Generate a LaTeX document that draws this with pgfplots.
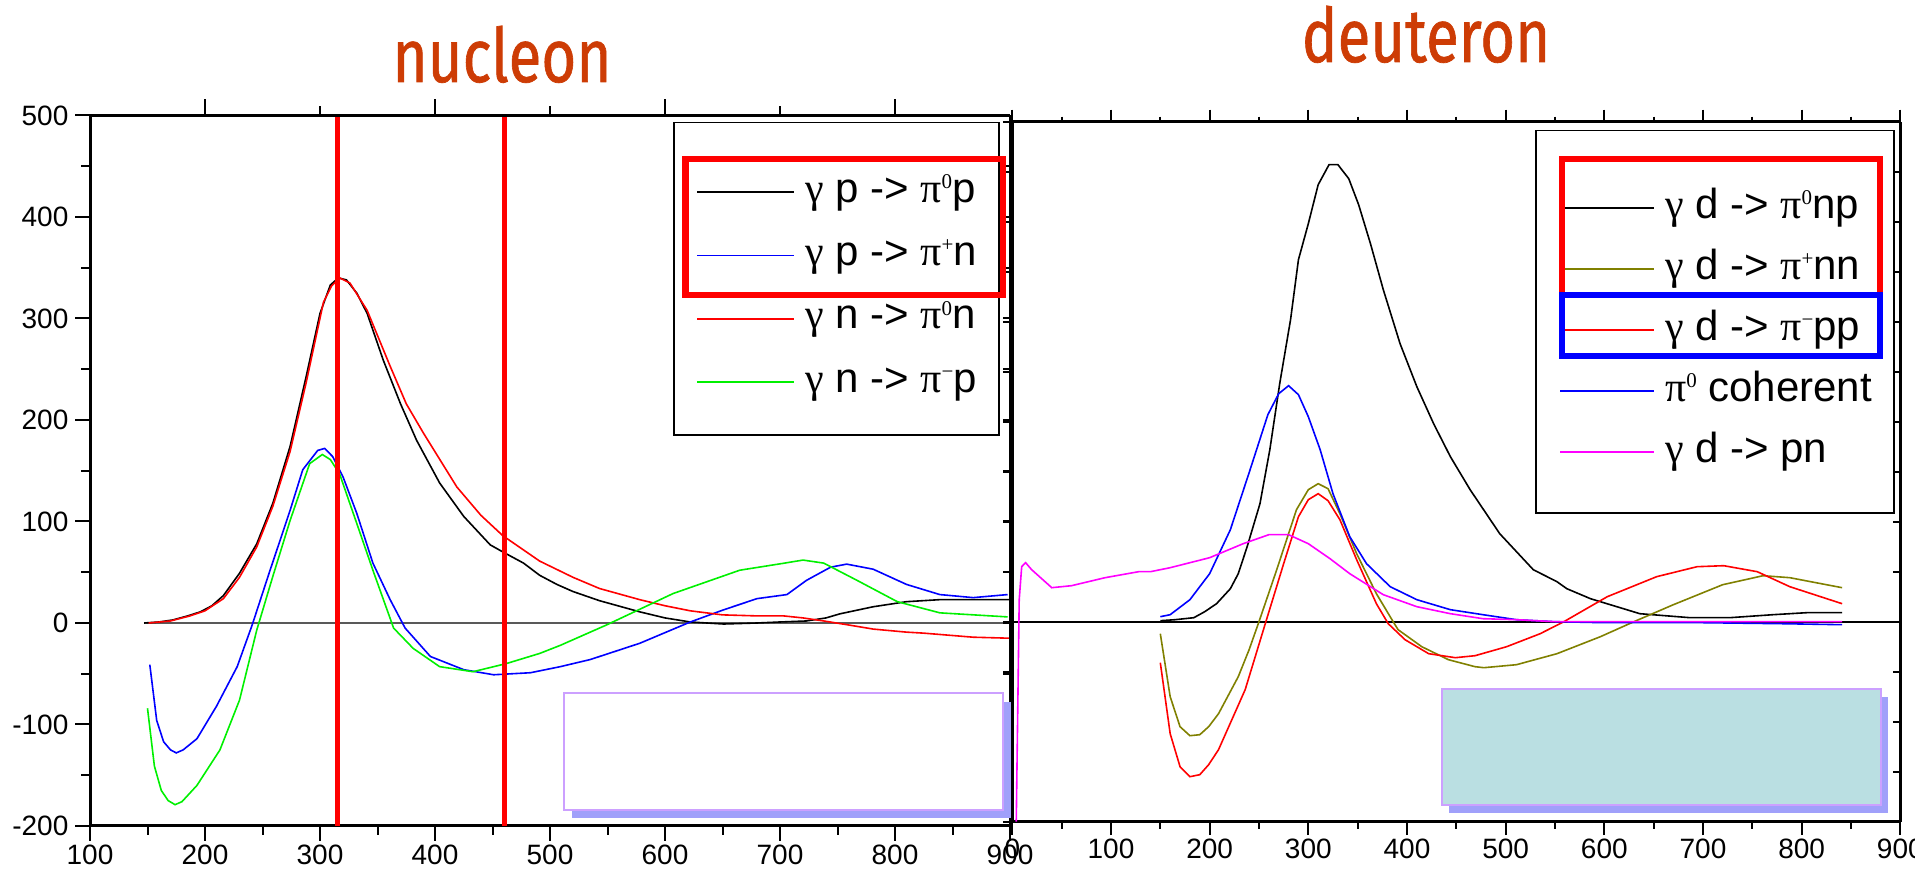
\documentclass[border=0pt]{standalone}
\usepackage{fontspec}
\usepackage{graphicx}
\setmainfont{Liberation Sans}
\newfontfamily\gr{Liberation Serif}
\newfontfamily\titlefont[FakeBold=1]{Fira Sans}
\usepackage{pgfplots}
\pgfplotsset{compat=1.18}
\definecolor{olivec}{RGB}{128,128,0}
\definecolor{greenc}{RGB}{0,240,0}
\definecolor{titlec}{RGB}{205,60,5}
\definecolor{lavc}{RGB}{204,160,255}
\definecolor{shadc}{RGB}{160,160,250}
\definecolor{cyanc}{RGB}{186,223,226}
\definecolor{magc}{RGB}{255,0,255}
\newcommand\sps[1]{\raisebox{6.8pt}{\fontsize{10.5}{10.5}\selectfont\gr #1}}
\newcommand\gam{{\gr γ}}
\newcommand\piG{{\gr π}}
\pgfplotsset{
  base/.style={scale only axis, axis line style={line width=1.5pt},
    tick style={black, line width=1pt},
    /pgf/number format/assume math mode=true,
    ticklabel style={font=\fontsize{14}{14}\selectfont}},
  ovl/.style={base, xticklabels={}, yticklabels={}},
  lg/.style={legend cell align=left,
    legend style={draw=none, fill=none, anchor=north west, inner sep=0pt,
      column sep=5pt, font=\fontsize{21}{21}\selectfont,
      nodes={inner sep=0pt, text height=16pt, text depth=6pt}}},
}
\begin{document}
\begin{tikzpicture}
\path[use as bounding box] (0pt,0pt) rectangle (957.5pt,438.5pt);
% ---------------- left panel ----------------
\begin{axis}[base, lg, at={(45pt,25.5pt)}, anchor=south west, width=460pt, height=355.25pt,
  xmin=100, xmax=900, ymin=-200, ymax=500,
  axis x line*=bottom, axis y line*=left, tick align=outside,
  xtick={100,200,...,900}, minor xtick={150,250,...,850},
  ytick={-200,-100,...,500}, minor ytick={-150,-50,...,450},
  major tick length=7.3pt, minor tick length=4.3pt,
  xticklabel style={yshift=1.5pt},
  legend style={at={(0.6587,0.9237)}, row sep=9.67pt},
  legend image code/.code={\draw[#1] (0pt,0pt) -- (48.5pt,0pt);}]
\addplot[forget plot, black!65, line width=0.7pt] coordinates {(147,0) (900,0)};
\addplot[black, line width=0.8pt] coordinates {
(147,0)(160,1)(172,3)(185,7)(196,11)(206,17)(216,27)(230,49)(245,78)(259,118)(274,174)(288,243)(300,305)(309,333)(316,340)(323,338)(332,325)(341,305)(355,259)(370,216)(384,180)(404,138)(425,105)(448,77)(459,70)(477,59)(491,47)(506,38)(520,31)(543,22)(578,11)(600,5)(622,1)(651,-1)(680,0)(700,1)(723,2)(740,5)(752,9)(781,16)(810,21)(839,23)(870,23)(900,23)};
\addlegendentry{\gam{} p -> \piG\sps{0}p}
\addplot[blue, line width=0.8pt] coordinates {
(152,-41)(158,-96)(164,-117)(170,-125)(175,-128)(181,-125)(193,-114)(210,-82)(228,-43)(241,-2)(256,50)(274,111)(285,151)(298,170)(304,172)(311,164)(320,144)(332,108)(346,59)(361,23)(374,-5)(396,-33)(425,-46)(451,-51)(483,-49)(509,-43)(535,-36)(578,-20)(622,1)(651,13)(680,24)(706,28)(723,42)(744,55)(758,58)(781,53)(810,38)(839,28)(868,25)(898,28)};
\addlegendentry{\gam{} p -> \piG\sps{+}n}
\addplot[red, line width=0.8pt] coordinates {
(151,0)(170,2)(187,7)(200,12)(216,24)(230,45)(245,75)(259,115)(274,169)(288,237)(303,316)(310,332)(317,340)(326,335)(341,308)(361,253)(375,216)(390,187)(419,134)(440,106)(459,86)(491,61)(520,45)(543,34)(578,23)(600,17)(622,12)(650,8)(680,7)(703,7)(720,5)(738,2)(760,-2)(781,-6)(810,-9)(825,-10)(868,-14)(900,-15)};
\addlegendentry{\gam{} n -> \piG\sps{0}n}
\addplot[greenc, line width=0.8pt] coordinates {
(150,-84)(156,-141)(162,-165)(168,-175)(174,-179)(180,-176)(193,-160)(213,-125)(230,-76)(245,-7)(259,46)(274,101)(291,157)(302,166)(309,161)(317,147)(332,98)(346,52)(364,-5)(381,-25)(404,-43)(433,-48)(462,-40)(491,-30)(509,-22)(549,-2)(607,29)(665,52)(704,59)(720,62)(738,59)(767,42)(802,21)(839,10)(898,6)};
\addlegendentry{\gam{} n -> \piG\sps{−}p}
\addplot[forget plot, red, line width=2.5pt] coordinates {(315,-200)(315,500)};
\addplot[forget plot, red, line width=2.5pt] coordinates {(460,-200)(460,500)};
\end{axis}
\begin{axis}[ovl, at={(45pt,25.5pt)}, anchor=south west, width=460pt, height=355.25pt,
  xmin=100, xmax=900, ymin=-200, ymax=500,
  axis x line*=top, axis y line=none, tick align=outside,
  xtick={200,400,600,800}, minor xtick={300,500,700},
  major tick length=8pt, minor tick length=4.5pt]
\end{axis}
\begin{axis}[ovl, at={(45pt,25.5pt)}, anchor=south west, width=460pt, height=355.25pt,
  xmin=100, xmax=900, ymin=-200, ymax=500,
  axis y line*=right, axis x line=none, tick align=inside,
  ytick={-200,-150,...,500}, major tick length=3.5pt]
\end{axis}
% ---------------- right panel ----------------
\begin{axis}[base, lg, at={(506.15pt,27.65pt)}, anchor=south west, width=444pt, height=350pt,
  xmin=0, xmax=900, ymin=-200, ymax=500,
  axis x line*=bottom, axis y line*=left, tick align=outside,
  xtick={0,100,...,900}, minor xtick={50,150,...,850},
  ytick=\empty, extra y ticks={-200,-150,...,500}, extra y tick labels={},
  extra y tick style={major tick length=4.5pt},
  major tick length=6.7pt, minor tick length=3.5pt,
  xticklabel style={yshift=1.5pt},
  legend style={at={(0.6157,0.9086)}, row sep=8.5pt},
  legend image code/.code={\draw[#1] (0pt,0pt) -- (47pt,0pt);}]
\addplot[forget plot, black, line width=1pt] coordinates {(0,0) (900,0)};
\addplot[black, line width=0.8pt] coordinates {
(150,1)(165,2)(184,4)(195,10)(207,18)(221,33)(229,48)(238,75)(251,118)(261,172)(271,238)(282,302)(290,362)(300,398)(310,437)(321,457)(330,457)(341,443)(351,417)(363,378)(376,332)(393,278)(410,235)(427,198)(444,165)(464,132)(494,88)(528,52)(552,40)(562,33)(586,23)(596,20)(636,8)(687,4)(727,4)(771,7)(805,9)(841,9)};
\addlegendentry{\gam{} d -> \piG\sps{0}np}
\addplot[olivec, line width=0.8pt] coordinates {
(150,-12)(160,-75)(170,-105)(180,-114)(190,-113)(199,-105)(209,-92)(229,-55)(240,-28)(250,0)(268,52)(288,112)(300,132)(310,138)(320,133)(332,108)(349,68)(369,28)(386,0)(391,-8)(415,-25)(442,-38)(469,-45)(478,-46)(511,-43)(552,-32)(596,-15)(630,0)(670,17)(720,37)(761,46)(788,44)(841,34)};
\addlegendentry{\gam{} d -> \piG\sps{+}nn}
\addplot[red, line width=0.8pt] coordinates {
(150,-41)(160,-112)(170,-145)(180,-155)(190,-153)(199,-143)(209,-128)(236,-68)(257,0)(275,58)(290,105)(300,122)(310,128)(320,121)(332,102)(349,62)(369,18)(381,-2)(398,-18)(422,-32)(449,-36)(469,-34)(501,-25)(535,-12)(559,0)(603,25)(653,45)(694,55)(721,56)(755,50)(788,35)(841,18)};
\addlegendentry{\gam{} d -> \piG\sps{−}pp}
\addplot[blue, line width=0.8pt] coordinates {
(150,5)(160,7)(180,22)(200,48)(221,92)(241,152)(259,207)(270,228)(280,236)(290,227)(300,205)(312,172)(325,128)(342,85)(359,58)(383,35)(410,22)(444,12)(477,7)(511,2)(550,0)(600,-1)(700,-1)(780,-2)(841,-3)};
\addlegendentry{\piG\sps{0} coherent}
\addplot[magc, line width=0.8pt] coordinates {
(4,-200)(7,22)(9.5,55)(13.5,59)(19.6,52)(40,34)(60,36)(94,44)(128,50)(140,50)(160,54)(200,64)(234,78)(260,87)(280,87)(300,78)(322,63)(342,48)(376,27)(410,15)(444,8)(477,3)(511,2)(550,0)(841,0)};
\addlegendentry{\gam{} d -> pn}
\end{axis}
\begin{axis}[ovl, at={(506.15pt,27.65pt)}, anchor=south west, width=444pt, height=350pt,
  xmin=0, xmax=900, ymin=-200, ymax=500,
  axis x line*=top, axis y line=none, tick align=outside,
  xtick={0,100,...,900}, minor xtick={50,150,...,850},
  major tick length=6pt, minor tick length=2.5pt]
\end{axis}
\begin{axis}[ovl, at={(506.15pt,27.65pt)}, anchor=south west, width=444pt, height=350pt,
  xmin=0, xmax=900, ymin=-200, ymax=500,
  axis y line*=right, axis x line=none, tick align=inside,
  ytick={-200,-150,...,500}, major tick length=3.5pt]
\end{axis}
% ---------------- decorations ----------------
\begin{scope}[x=1pt, y=1pt]
\node[anchor=base, text=titlec, font=\titlefont\fontsize{30}{30}\selectfont] at (251,397.5) {\scalebox{1}[1.25]{nucleon}};
\node[anchor=base, text=titlec, font=\titlefont\fontsize{30}{30}\selectfont] at (713,407.5) {\scalebox{1}[1.25]{deuteron}};
\draw[black, line width=0.8pt] (337,221) rectangle (499.5,377.15);
\draw[red, line width=3.3pt] (342.85,291) rectangle (501.5,359);
\draw[black, line width=0.8pt] (767.85,182) rectangle (947,373.15);
\draw[red, line width=3.3pt] (781,291) rectangle (940,359);
\draw[blue, line width=3.3pt] (781,260.5) rectangle (940,291);
\fill[shadc] (286,29.5) rectangle (505.5,87.5);
\filldraw[fill=white, draw=lavc, line width=1pt] (282,33.5) rectangle (501.5,92);
\fill[shadc] (724.5,32) rectangle (944,90);
\filldraw[fill=cyanc, draw=lavc, line width=1pt] (721,36) rectangle (940.5,94);
\end{scope}
\end{tikzpicture}
\end{document}
